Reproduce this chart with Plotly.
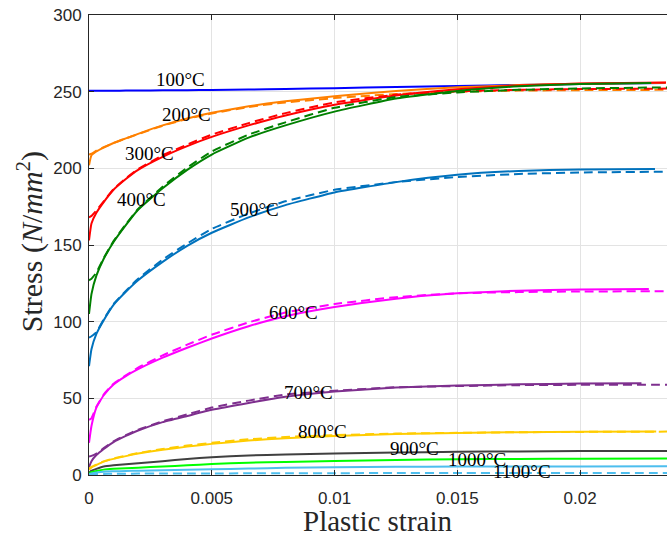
import plotly.graph_objects as go

# Shared strain grid (plastic strain)
strain_grid = [0, 0.0001, 0.0003, 0.0006, 0.001, 0.0015, 0.002, 0.003, 0.004,
               0.005, 0.0065, 0.008, 0.01, 0.0125, 0.015, 0.0175, 0.02]
dashed_end = 0.0236

temperatures = ["100°C", "200°C", "300°C", "400°C", "500°C", "600°C",
                "700°C", "800°C", "900°C", "1000°C", "1100°C"]
colors = ["#0000FF", "#FF8000", "#FF0000", "#008000", "#0072BD", "#FF00FF",
          "#7E2F8E", "#FFCC00", "#404040", "#00FF00", "#4DBEEE"]

# solid-curve end strain
solid_end = [0.02346, 0.0235, 0.0235, 0.0229, 0.02305, 0.0228,
             0.0225, 0.0231, 0.0236, 0.0236, 0.0236]

# Model (solid) stress values, N/mm^2
s100 = [250.6, 250.6, 250.6, 250.6, 250.65, 250.7, 250.75, 250.85, 250.95, 251.1, 251.4, 251.8, 252.3, 253.0, 253.7, 254.4, 255.0, 255.7]
s200 = [202, 208.5, 211, 213.5, 216.5, 219.5, 222.5, 228, 232.5, 236.2, 240.5, 243.8, 247, 250.5, 252.8, 254.3, 255.2, 255.8]
s300 = [153, 164, 171, 178, 186, 193, 199, 207.5, 214.5, 220.5, 228, 234.5, 241.5, 247.5, 251.5, 254, 255.3, 256]
s400 = [105, 118, 130, 141, 152, 163, 173, 187, 199, 209, 220, 228, 237, 245.5, 250.5, 253.5, 255, 255.6]
s500 = [71, 82, 92, 101, 111, 119.5, 127, 139, 149.5, 158, 168, 176, 184.3, 191, 195.8, 198.3, 199.3, 199.5]
s600 = [21, 32, 44, 52, 59, 64.5, 69, 76.5, 83, 89, 97, 103.5, 109.5, 115, 118.5, 120.2, 121, 121.3]
s700 = [5, 9, 13, 17, 21.5, 25.5, 29, 34.5, 38.5, 42.5, 47, 51, 54.5, 57, 58.3, 59.2, 59.6, 59.8]
s800 = [3.5, 5, 6.5, 8.7, 10.5, 12.3, 14, 16.5, 18.5, 20.3, 22.5, 24, 25.5, 26.7, 27.4, 27.9, 28.2, 28.4]
s900 = [1.5, 2.8, 4, 5.5, 6.3, 7, 7.7, 9, 10.5, 11.6, 12.7, 13.4, 14.1, 14.7, 15.1, 15.4, 15.6, 15.7]
s1000 = [1, 1.8, 2.6, 3.5, 4, 4.4, 4.8, 5.5, 6.3, 7.2, 8, 8.5, 9.2, 9.8, 10.3, 10.5, 10.6, 10.7]
s1100 = [0.5, 1, 1.6, 2.2, 2.4, 2.6, 2.8, 3.1, 3.4, 3.7, 4.2, 4.7, 5.1, 5.3, 5.5, 5.6, 5.6, 5.7]

# Experimental (dashed) stress values, N/mm^2 (None = not drawn)
d100 = None
d200 = [209, 209.5, 211.5, 213.8, 216.5, 219.5, 222.3, 227.8, 232.2, 235.8, 240, 243, 245.8, 248.5, 250, 250.7, 251, 251.2]
d300 = [168, 169, 172.5, 178.5, 186.5, 193.5, 199.5, 208.5, 215.5, 222, 229.5, 236, 243, 248, 250.2, 251.2, 251.7, 252]
d400 = [127, 128, 132, 141.5, 152.5, 163.5, 173.5, 188, 200.5, 211, 222, 230, 239.5, 246.5, 249.5, 251.2, 252.1, 252.8]
d500 = [89.5, 90.5, 93, 101.5, 111.5, 120, 128, 140.5, 151, 160.5, 170.5, 178.5, 186, 191, 194.3, 196.3, 197.3, 197.8]
d600 = [36, 37, 44.5, 52.5, 59.5, 65, 70, 78, 85, 91.5, 99.5, 106, 111.5, 116, 118.5, 119.3, 119.7, 119.8]
d700 = [12, 12.5, 14, 17.5, 22, 26, 29.5, 35, 39.5, 44, 48.5, 52.5, 55, 57.2, 58, 58.6, 58.8, 58.9]
d800 = [4, 5.3, 6.8, 8.9, 10.8, 12.6, 14.3, 17, 19.2, 21, 23.3, 24.8, 26, 27, 27.5, 27.9, 28.1, 28.3]
d900 = None
d1000 = None
d1100 = [0.4, 0.5, 0.6, 0.7, 0.8, 0.85, 0.9, 0.95, 1, 1, 1.1, 1.15, 1.2, 1.25, 1.3, 1.3, 1.3, 1.3]

solids = [s100, s200, s300, s400, s500, s600, s700, s800, s900, s1000, s1100]
dashes = [d100, d200, d300, d400, d500, d600, d700, d800, d900, d1000, d1100]

# label anchor positions (strain, stress)
label_x = [0.00374, 0.00397, 0.00247, 0.00214, 0.00675, 0.00831, 0.00892, 0.00952, 0.01327, 0.01579, 0.01762]
label_y = [257.7, 234.9, 209.5, 179.5, 173, 106.3, 53.5, 28.2, 17, 10, 2.3]

fig = go.Figure()
for i in range(len(temperatures)):
    if dashes[i] is not None:
        fig.add_trace(go.Scatter(
            x=strain_grid + [dashed_end], y=dashes[i], mode="lines",
            line=dict(color=colors[i], width=2, dash="9px,5px", shape="spline", smoothing=0.4),
            showlegend=False, hoverinfo="skip"))
    fig.add_trace(go.Scatter(
        x=strain_grid + [solid_end[i]], y=solids[i], mode="lines",
        line=dict(color=colors[i], width=2, shape="spline", smoothing=0.4),
        showlegend=False, hoverinfo="skip"))

for i, t in enumerate(temperatures):
    fig.add_annotation(x=label_x[i], y=label_y[i], text=t, showarrow=False,
                       font=dict(family="Liberation Serif", size=19, color="#000000"),
                       xanchor="center", yanchor="middle")

axis_common = dict(
    showline=True, linecolor="#262626", linewidth=1,
    ticks="inside", ticklen=5, tickcolor="#262626", tickwidth=1,
    showgrid=True, gridcolor="#E3E3E3", gridwidth=1, zeroline=False,
    tickfont=dict(family="Liberation Sans", size=17, color="#262626"),
)
fig.update_xaxes(range=[0, 0.02354], tickvals=[0, 0.005, 0.01, 0.015, 0.02],
                 ticktext=["0", "0.005", "0.01", "0.015", "0.02"],
                 mirror="ticks", ticklabelstandoff=8, **axis_common)
fig.update_yaxes(range=[0, 300], tickvals=[0, 50, 100, 150, 200, 250, 300],
                 mirror=False, ticklabelstandoff=3, **axis_common)

fig.add_annotation(xref="paper", yref="paper", x=0.5007, y=-0.101,
                   text="Plastic strain", showarrow=False,
                   font=dict(family="Liberation Serif", size=29, color="#262626"),
                   xanchor="center", yanchor="middle")
fig.add_annotation(xref="paper", yref="paper", x=-0.102, y=0.506,
                   text="Stress (<i>N</i>/<i>mm</i><sup>2</sup>)", showarrow=False, textangle=-90,
                   font=dict(family="Liberation Serif", size=30, color="#262626"),
                   xanchor="center", yanchor="middle")

fig.update_layout(width=667, height=536, margin=dict(l=89, r=0, t=15, b=61),
                  plot_bgcolor="white", paper_bgcolor="white")
fig.write_html("out.html")
